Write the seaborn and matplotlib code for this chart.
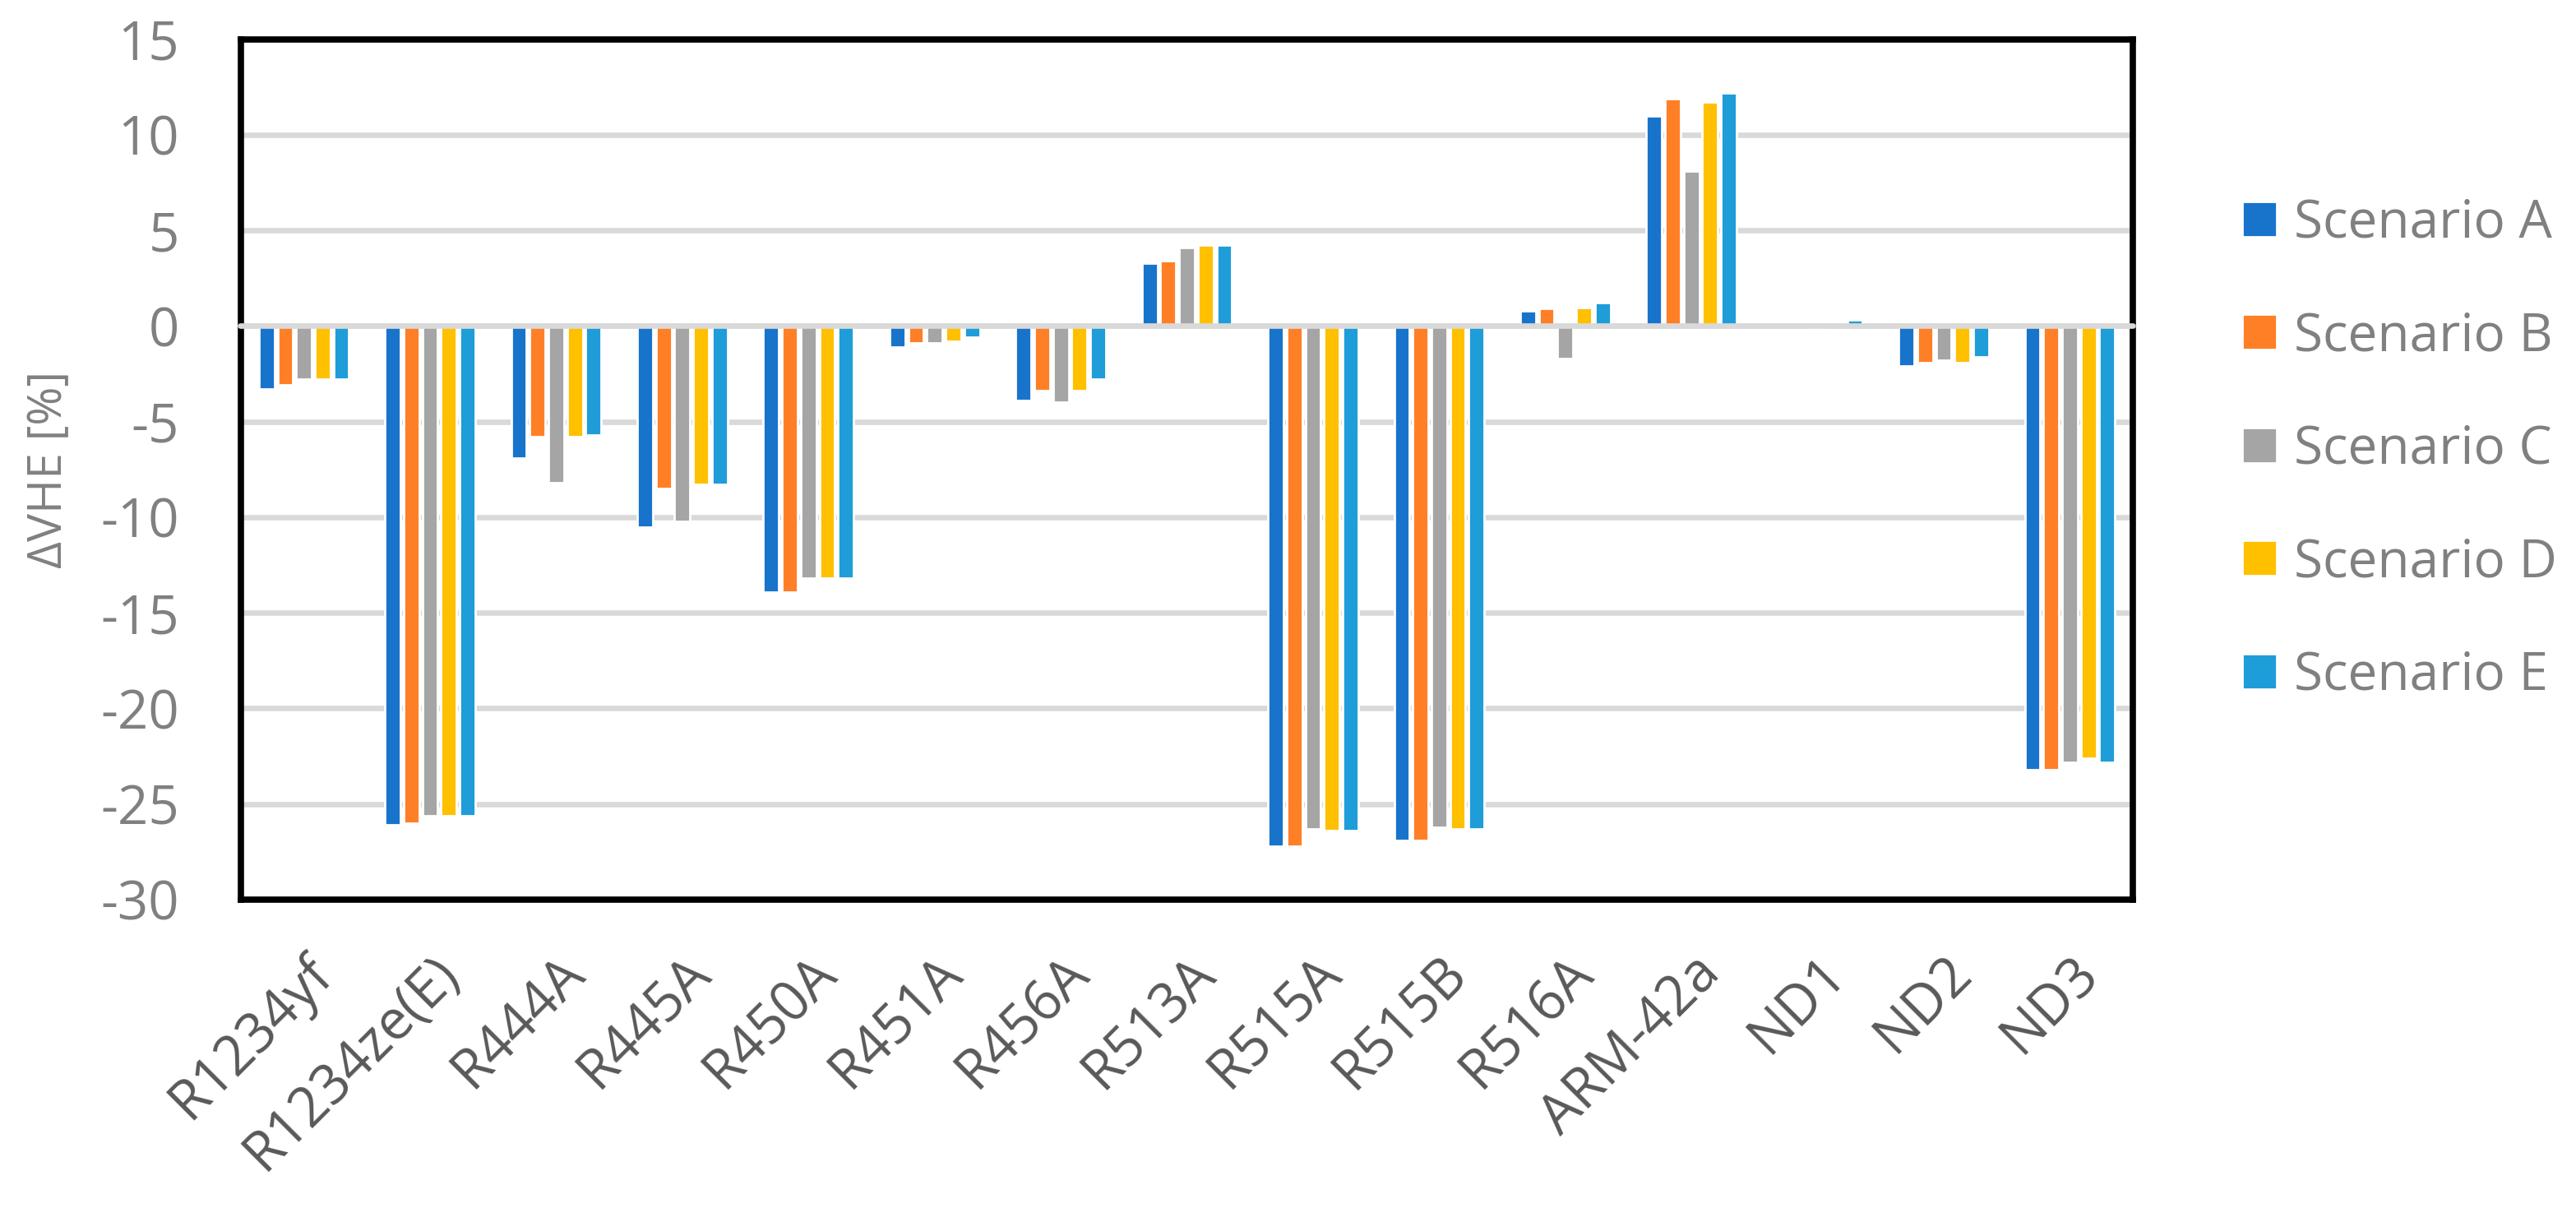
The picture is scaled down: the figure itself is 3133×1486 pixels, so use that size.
import numpy as np
import pandas as pd
import matplotlib.pyplot as plt
import seaborn as sns

refrigerants = ['R1234yf', 'R1234ze(E)', 'R444A', 'R445A', 'R450A', 'R451A', 'R456A', 'R513A',
                'R515A', 'R515B', 'R516A', 'ARM-42a', 'ND1', 'ND2', 'ND3']
scenarios = ['Scenario A', 'Scenario B', 'Scenario C', 'Scenario D', 'Scenario E']

scenario_a = [-3.3, -26.1, -6.9, -10.5, -13.9, -1.1, -3.9, 3.3, -27.2, -26.9, 0.8, 11.0, 0.0, -2.1, -23.2]
scenario_b = [-3.1, -26.0, -5.8, -8.5, -13.9, -0.9, -3.4, 3.4, -27.2, -26.9, 0.9, 11.9, 0.0, -1.9, -23.2]
scenario_c = [-2.8, -25.6, -8.2, -10.2, -13.2, -0.9, -4.0, 4.1, -26.3, -26.2, -1.7, 8.1, -0.1, -1.8, -22.8]
scenario_d = [-2.8, -25.6, -5.8, -8.3, -13.2, -0.8, -3.4, 4.25, -26.4, -26.3, 0.95, 11.7, 0.0, -1.9, -22.6]
scenario_e = [-2.8, -25.6, -5.7, -8.3, -13.2, -0.6, -2.8, 4.25, -26.4, -26.3, 1.2, 12.2, 0.3, -1.6, -22.8]

colors = ['#1874CB', '#FF7F27', '#A5A5A5', '#FFC000', '#1E9DD9']

df = pd.DataFrame({'refrigerant': refrigerants, 'Scenario A': scenario_a, 'Scenario B': scenario_b,
                   'Scenario C': scenario_c, 'Scenario D': scenario_d, 'Scenario E': scenario_e})
df = df.melt(id_vars='refrigerant', var_name='scenario', value_name='dvhe')

sns.set_style('white')
plt.rcParams['font.family'] = ['Open Sans', 'DejaVu Sans']
plt.rcParams['axes.unicode_minus'] = False

fig = plt.figure(figsize=(15.665, 7.43), dpi=200)
ax = fig.add_axes([0.0935, 0.2638, 0.7345, 0.7042])

sns.barplot(data=df, x='refrigerant', y='dvhe', hue='scenario', order=refrigerants, hue_order=scenarios,
            palette=colors, width=0.74, gap=0.17, saturation=1, ax=ax, zorder=3)

ax.set_ylim(-30, 15)
ax.set_yticks(np.arange(-30, 16, 5))
ax.grid(axis='y', color='#D9D9D9', linewidth=2.4, zorder=0)
ax.set_axisbelow(True)
# zero line sits on top of the bars and runs into the left spine
ax.axhline(0, xmin=-0.0005, xmax=1, color='#D9D9D9', linewidth=2.4, zorder=4, clip_on=False)
for s in ax.spines.values():
    s.set_visible(True)
    s.set_color('black')
    s.set_linewidth(2.75)

ax.tick_params(axis='y', length=0, pad=27, labelsize=23.5, labelcolor='#808080')
ax.tick_params(axis='x', length=0, pad=20, labelsize=24, labelcolor='#595959')
plt.setp(ax.get_xticklabels(), rotation=45, ha='right', va='top', rotation_mode='anchor')
ax.set_xlabel('')
ax.set_ylabel('ΔVHE [%]', fontsize=20.5, color='#808080', labelpad=12)

ax.legend(loc='center left', bbox_to_anchor=(0.852, 0.632), bbox_transform=fig.transFigure,
          frameon=False, fontsize=23, labelcolor='#808080', handlelength=0.66, handleheight=0.66,
          handletextpad=0.33, labelspacing=1.15, title=None)

fig.savefig('out.png', dpi=200)
